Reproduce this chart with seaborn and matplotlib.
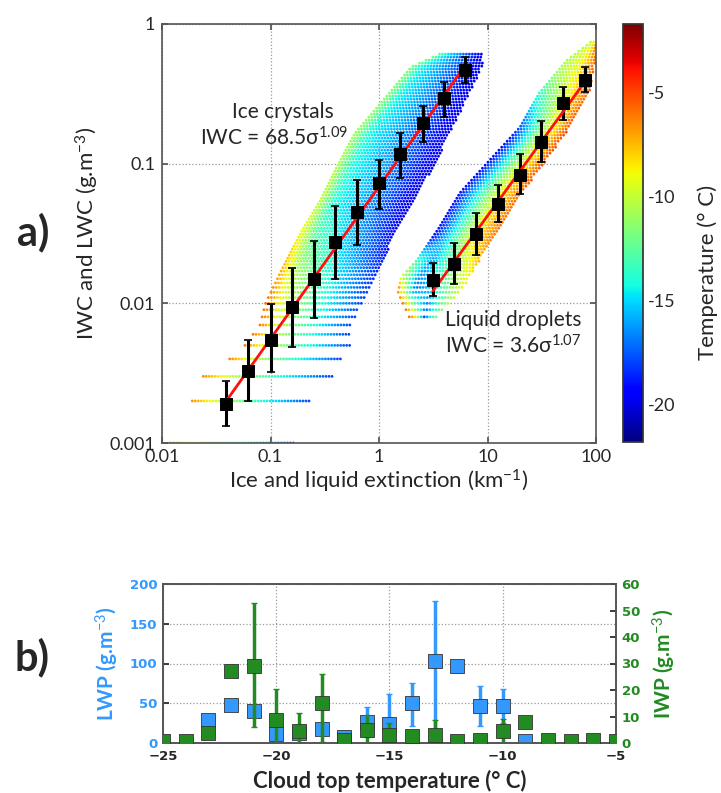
import numpy as np
import pandas as pd
import matplotlib
matplotlib.use("Agg")
import matplotlib.pyplot as plt
import seaborn as sns
from matplotlib.ticker import FixedLocator, FixedFormatter, NullLocator
from matplotlib.cm import ScalarMappable
from matplotlib.colors import Normalize

# ---------------- data: panel a (binned means) ----------------
ice_sigma = [0.039, 0.062, 0.1, 0.159, 0.25, 0.396, 0.627, 1.0, 1.57, 2.54, 3.95, 6.25]
ice_wc = [0.0019, 0.0033, 0.0055, 0.0094, 0.0149, 0.0277, 0.0453, 0.0723, 0.117, 0.194, 0.294, 0.469]
ice_hi = [0.0028, 0.0055, 0.0099, 0.0178, 0.028, 0.050, 0.076, 0.107, 0.165, 0.26, 0.387, 0.58]
ice_lo = [0.00132, 0.0020, 0.0032, 0.0049, 0.0078, 0.015, 0.026, 0.047, 0.079, 0.144, 0.217, 0.376]

liq_sigma = [3.15, 4.95, 7.9, 12.5, 19.8, 31.3, 49.6, 79.8]
liq_wc = [0.0147, 0.0191, 0.0312, 0.0514, 0.083, 0.144, 0.27, 0.397]
liq_hi = [0.0194, 0.027, 0.044, 0.070, 0.117, 0.203, 0.356, 0.495]
liq_lo = [0.0112, 0.0137, 0.0223, 0.0385, 0.0607, 0.103, 0.205, 0.328]

# fit laws shown on the chart (mg m-3 per km-1)
ice_fit_coef, ice_fit_exp = 68.5, 1.09
liq_fit_coef, liq_fit_exp = 3.6, 1.07

ice_env_y = [0.001, 0.002, 0.003, 0.004, 0.005, 0.007, 0.01, 0.018, 0.032, 0.055, 0.095, 0.165, 0.286, 0.495, 0.62]
ice_env_xlo = [0.012, 0.019, 0.024, 0.042, 0.058, 0.08, 0.09, 0.13, 0.19, 0.29, 0.41, 0.6, 1.1, 2.0, 3.8]
ice_env_xhi = [0.17, 0.24, 0.37, 0.45, 0.55, 0.55, 0.7, 1.05, 1.4, 2.1, 3.2, 4.5, 6.4, 9.0, 9.0]
# temperature across the cloud (left edge -> right edge) at a few heights
ice_temp_pos = [0.0, 0.15, 0.4, 0.7, 1.0]
ice_temp_y = [0.001, 0.01, 0.05, 0.6]
ice_temp_rows = [[-7.0, -9.0, -12.0, -15.0, -18.0],
                 [-6.0, -9.0, -12.0, -15.0, -18.0],
                 [-10.0, -14.0, -15.5, -17.5, -20.0],
                 [-12.0, -14.5, -16.0, -18.0, -20.0]]

liq_env_y = [0.008, 0.0119, 0.0154, 0.0204, 0.035, 0.062, 0.106, 0.183, 0.32, 0.55, 0.77]
liq_env_xlo = [1.9, 1.5, 1.6, 2.25, 3.6, 5.6, 10.5, 20.0, 30.0, 54.0, 95.0]
liq_env_xhi = [3.5, 5.6, 6.9, 8.5, 13.0, 21.0, 35.0, 58.0, 88.0, 100.0, 100.0]
liq_temp_pos = [0.0, 0.25, 0.5, 0.75, 1.0]
liq_temp_y = [0.008, 0.013, 0.03, 0.15, 0.45, 0.77]
liq_temp_rows = [[-6.0, -9.0, -18.0, -14.0, -11.0],
                 [-7.0, -17.0, -15.0, -12.0, -9.0],
                 [-19.0, -15.0, -11.0, -8.0, -6.0],
                 [-19.0, -15.0, -11.0, -8.0, -5.0],
                 [-11.0, -10.0, -9.0, -7.5, -5.5],
                 [-10.0, -9.5, -9.0, -8.0, -6.0]]

temp_range = (-21.8, -1.7)
cbar_ticks = [-20, -15, -10, -5]

# ---------------- data: panel b ----------------
b_temp = [-25, -24, -23, -22, -21, -20, -19, -18, -17, -16, -15, -14, -13, -12, -11, -10, -9, -8, -7, -6, -5]
lwp = [np.nan, np.nan, 29, 48, 40, 11.7, 12, 17.5, 7, 26, 24, 50, 103, 96.7, 47, 47, 2, np.nan, np.nan, np.nan, np.nan]
lwp_hi = [np.nan, np.nan, np.nan, np.nan, np.nan, np.nan, np.nan, np.nan, np.nan, 45, 62, 76, 179, np.nan, 72, 68, np.nan, np.nan, np.nan, np.nan, np.nan]
lwp_lo = [np.nan, np.nan, np.nan, np.nan, np.nan, np.nan, np.nan, np.nan, np.nan, 8, 0, 22, 0, np.nan, 22, 25, np.nan, np.nan, np.nan, np.nan, np.nan]
iwp = [0.6, 0.6, 3.75, 27, 29, 8.5, 4.4, 15.25, 1.25, 5, 3, 2.5, 2.9, 0.9, 1.25, 4.6, 8.1, 1.25, 0.9, 1.0, 0.9]
iwp_hi = [np.nan, np.nan, np.nan, np.nan, 52.75, 20.4, 11.25, 26, np.nan, 10.6, 7.5, np.nan, 8.5, np.nan, np.nan, 9, np.nan, np.nan, np.nan, np.nan, np.nan]
iwp_lo = [np.nan, np.nan, np.nan, np.nan, 6, 0, 0, 0.5, np.nan, 0, 0, np.nan, 0, np.nan, np.nan, 0, np.nan, np.nan, np.nan, np.nan, np.nan]

# ---------------- styling ----------------
sns.set_theme(style="white")
plt.rcParams["font.family"] = ["Lato", "DejaVu Sans"]
plt.rcParams["mathtext.fontset"] = "custom"
plt.rcParams["mathtext.rm"] = "Lato"
plt.rcParams["mathtext.it"] = "Lato:italic"
plt.rcParams["mathtext.bf"] = "Lato:bold"

W, H = 721, 793
fig = plt.figure(figsize=(W / 100, H / 100), dpi=100)
fig.patch.set_facecolor("white")


def fx(px):
    return px / W


def fy(py):
    return 1 - py / H


ax = fig.add_axes([fx(162), fy(443), fx(596) - fx(162), fy(24) - fy(443)])
cax = fig.add_axes([fx(623), fy(442), fx(643) - fx(623), fy(24) - fy(442)])
axb = fig.add_axes([fx(163), fy(743), fx(616) - fx(163), fy(584) - fy(743)])
axb2 = axb.twinx()


def cloud(env_y, env_xlo, env_xhi, tpos, temp_y, temp_rows):
    ly = np.log10(env_y)
    lxlo = np.log10(env_xlo)
    lxhi = np.log10(env_xhi)
    lty = np.log10(temp_y)
    trows = np.array(temp_rows)
    q_rows = [v / 1000 for v in range(1, 20) if v / 1000 >= env_y[0] - 1e-9]
    c_rows = list(10 ** np.arange(np.log10(0.02), ly[-1] + 1e-6, 0.0215))
    xs, ys, ts = [], [], []
    for r in q_rows + c_rows:
        lr = np.log10(r)
        if lr > ly[-1]:
            continue
        lo = np.interp(lr, ly, lxlo)
        hi = np.interp(lr, ly, lxhi)
        if hi <= lo:
            continue
        prof = [np.interp(lr, lty, trows[:, k]) for k in range(trows.shape[1])]
        px = np.arange(lo, hi + 1e-9, 0.0276)
        frac = (px - lo) / max(hi - lo, 1e-9)
        xs.extend(10 ** px)
        ys.extend([r] * len(px))
        ts.extend(np.interp(frac, tpos, prof))
    return pd.DataFrame({"sigma": xs, "wc": ys, "T": ts})


cmap = matplotlib.colormaps["jet"]
norm = Normalize(*temp_range)
for env in [(ice_env_y, ice_env_xlo, ice_env_xhi, ice_temp_pos, ice_temp_y, ice_temp_rows),
            (liq_env_y, liq_env_xlo, liq_env_xhi, liq_temp_pos, liq_temp_y, liq_temp_rows)]:
    df = cloud(*env)
    sns.scatterplot(data=df, x="sigma", y="wc", hue="T", palette=cmap, hue_norm=norm,
                    s=4, linewidth=0, legend=False, ax=ax, zorder=2)

ax.set_xscale("log")
ax.set_yscale("log")
ax.set_xlim(0.01, 100)
ax.set_ylim(0.001, 1)

# fit lines
for xs_, c, e in [(ice_sigma, ice_fit_coef, ice_fit_exp), (liq_sigma, liq_fit_coef, liq_fit_exp)]:
    xe = np.array([xs_[0], xs_[-1]])
    sns.lineplot(x=xe, y=c * 1e-3 * xe ** e, color="#ff1010", lw=2, ax=ax, zorder=4)

# binned means with error bars
for xs_, m, lo, hi in [(ice_sigma, ice_wc, ice_lo, ice_hi), (liq_sigma, liq_wc, liq_lo, liq_hi)]:
    m = np.array(m)
    ax.errorbar(xs_, m, yerr=[m - np.array(lo), np.array(hi) - m], fmt="none",
                ecolor="black", elinewidth=2.2, capsize=3, capthick=1.2, zorder=3)
    sns.scatterplot(x=xs_, y=m, marker="s", s=75, color="black", edgecolor="black",
                    ax=ax, zorder=5)

ax.xaxis.set_major_locator(FixedLocator([0.01, 0.1, 1, 10, 100]))
ax.xaxis.set_major_formatter(FixedFormatter(["0.01", "0.1", "1", "10", "100"]))
ax.yaxis.set_major_locator(FixedLocator([0.001, 0.01, 0.1, 1]))
ax.yaxis.set_major_formatter(FixedFormatter(["0.001", "0.01", "0.1", "1"]))
ax.xaxis.set_minor_locator(NullLocator())
ax.yaxis.set_minor_locator(NullLocator())
ax.tick_params(axis="both", which="major", direction="in", length=4, color="#555555",
               labelsize=13, top=True, right=True, bottom=True, left=True)
ax.tick_params(axis="x", pad=4)
ax.tick_params(axis="y", pad=5)
ax.grid(True, which="major", ls=":", color="#999999", lw=0.9)
for s in ax.spines.values():
    s.set_color("#555555")
    s.set_linewidth(1.2)
ax.set_xlabel("Ice and liquid extinction (km$^{-1}$)", fontsize=16, labelpad=2)
ax.set_ylabel("IWC and LWC (g.m$^{-3}$)", fontsize=16, labelpad=6)

fig.text(fx(334), fy(112), "Ice crystals", ha="right", va="center", fontsize=15)
fig.text(fx(200), fy(138), "IWC = 68.5σ$^{1.09}$", ha="left", va="center", fontsize=15)
fig.text(fx(445), fy(320), "Liquid droplets", ha="left", va="center", fontsize=15)
fig.text(fx(445), fy(346), "IWC = 3.6σ$^{1.07}$", ha="left", va="center", fontsize=15)

# colorbar
cb = fig.colorbar(ScalarMappable(norm=norm, cmap=cmap), cax=cax)
cb.set_ticks(cbar_ticks)
cb.set_ticklabels([str(t) for t in cbar_ticks])
cb.ax.yaxis.set_minor_locator(FixedLocator([-17.5, -12.5, -7.5, -2.5]))
cb.ax.tick_params(which="both", direction="in", length=4, color="#555555", labelsize=13)
cb.outline.set_edgecolor("#333333")
fig.text(fx(708), fy(272), "Temperature (° C)", rotation=90, ha="center", va="center", fontsize=16)

fig.text(fx(33), fy(232), "a)", ha="center", va="center", fontsize=30, fontweight="bold")
fig.text(fx(32), fy(657), "b)", ha="center", va="center", fontsize=30, fontweight="bold")

# ---------------- panel b ----------------
blue = "#3399ff"
green = "#228b22"
bt = np.array(b_temp, dtype=float)
lw_ = np.array(lwp, dtype=float)
iw_ = np.array(iwp, dtype=float)

ok = ~np.isnan(np.array(lwp_hi, dtype=float))
axb.errorbar(bt[ok], lw_[ok], yerr=[lw_[ok] - np.array(lwp_lo)[ok], np.array(lwp_hi)[ok] - lw_[ok]],
             fmt="none", ecolor=blue, elinewidth=2.5, capsize=2, capthick=1, zorder=2)
sns.scatterplot(x=bt, y=lw_, marker="s", s=100, color=blue, edgecolor="#333333", linewidth=0.6,
                ax=axb, zorder=3)
ok2 = ~np.isnan(np.array(iwp_hi, dtype=float))
axb2.errorbar(bt[ok2], iw_[ok2], yerr=[iw_[ok2] - np.array(iwp_lo)[ok2], np.array(iwp_hi)[ok2] - iw_[ok2]],
              fmt="none", ecolor=green, elinewidth=2.5, capsize=2, capthick=1, zorder=2)
sns.scatterplot(x=bt, y=iw_, marker="s", s=100, color=green, edgecolor="#333333", linewidth=0.6,
                ax=axb2, zorder=3)

axb.set_xlim(-25, -5)
axb.set_ylim(0, 200)
axb2.set_ylim(0, 60)
axb.set_xticks([-25, -20, -15, -10, -5])
axb.set_yticks([0, 50, 100, 150, 200])
axb2.set_yticks([0, 10, 20, 30, 40, 50, 60])
axb.grid(True, ls=":", color="#999999", lw=0.9)
axb2.grid(False)
for a in (axb, axb2):
    for s in a.spines.values():
        s.set_color("#555555")
        s.set_linewidth(1.2)
axb.tick_params(axis="x", direction="in", length=4, labelsize=9.5, pad=5)
axb.tick_params(axis="y", direction="in", length=4, labelsize=9.5, labelcolor=blue, pad=4)
axb2.tick_params(axis="y", direction="in", length=4, labelsize=9.5, labelcolor=green, pad=4)
for lab in axb.get_xticklabels() + axb.get_yticklabels() + axb2.get_yticklabels():
    lab.set_fontweight("bold")
    lab.set_family(["DejaVu Sans"])
axb.set_xlabel("Cloud top temperature (° C)", fontsize=16, fontweight="bold", labelpad=5)
axb.set_ylabel("LWP (g.m$^{-3}$)", fontsize=15, fontweight="bold", color=blue, labelpad=6)
axb2.set_ylabel("IWP (g.m$^{-3}$)", fontsize=15, fontweight="bold", color=green, labelpad=8)

fig.savefig("out.png", dpi=100)
